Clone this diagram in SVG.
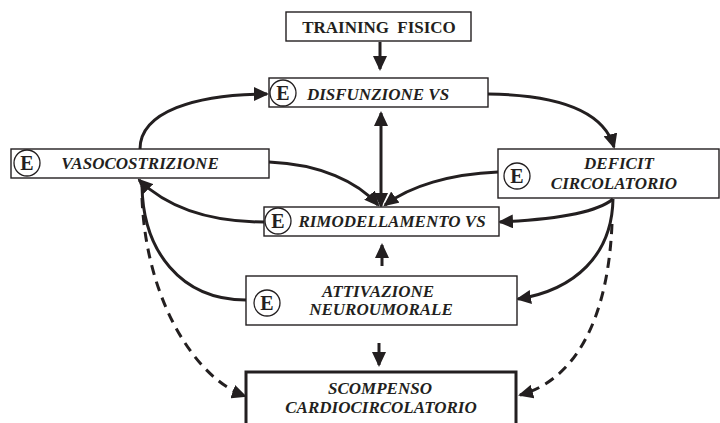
<svg xmlns="http://www.w3.org/2000/svg" width="720" height="423" viewBox="0 0 720 423">
<style>
.box{fill:#fff;stroke:#231f20;stroke-width:1.4}
.thick{fill:#fff;stroke:#231f20;stroke-width:3}
.t{font-family:"Liberation Serif","Times New Roman",serif;font-weight:bold;font-style:italic;font-size:17px;fill:#231f20;text-anchor:middle}
.up{font-style:normal}
.e{font-family:"Liberation Serif","Times New Roman",serif;font-weight:bold;font-size:20px;fill:#231f20;text-anchor:middle}
.c{fill:#fff;stroke:#231f20;stroke-width:1.3}
.ln{fill:none;stroke:#231f20;stroke-width:3}
.d{stroke-dasharray:10 7}
</style>
<defs>
<marker id="ah" markerUnits="userSpaceOnUse" markerWidth="15" markerHeight="14" refX="13" refY="7" orient="auto-start-reverse" viewBox="0 0 15 14">
<path d="M0,0 L15,7 L0,14 z" fill="#231f20"/>
</marker>
</defs>
<g id="connectors">
<path class="ln" d="M380,42 L380,69" marker-end="url(#ah)"/>
<path class="ln" d="M140,149 C140,112 195,94 267,94" marker-end="url(#ah)"/>
<path class="ln" d="M488,94 C560,95 604,112 614,147" marker-end="url(#ah)"/>
<path class="ln" d="M381,113 L381,206" marker-start="url(#ah)" marker-end="url(#ah)"/>
<path class="ln" d="M269,162 C320,164 358,182 378,205" marker-end="url(#ah)"/>
<path class="ln" d="M498,172 C450,174 410,186 385,205" marker-end="url(#ah)"/>
<path class="ln" d="M613,199 C595,214 545,220 500,222" marker-end="url(#ah)"/>
<path class="ln" d="M613,199 C612,255 575,290 518,299" marker-end="url(#ah)"/>
<path class="ln d" d="M612,224 C608,320 575,380 520,395" marker-end="url(#ah)"/>
<path class="ln" d="M382,266 L382,245" marker-end="url(#ah)"/>
<path class="ln" d="M379,343 L379,365" marker-end="url(#ah)"/>
<path class="ln" d="M264,222 C210,222 168,208 139,180" marker-end="url(#ah)"/>
<path class="ln" d="M246,300 C180,300 143,250 142,186"/>
<path class="ln d" d="M142,198 C146,300 195,378 245,396" marker-end="url(#ah)"/>
</g>
<g id="training">
<rect class="box" x="286" y="12" width="185" height="29"/>
<text class="t up" x="379" y="33" word-spacing="4">TRAINING FISICO</text>
</g>
<g id="disfunzione">
<rect class="box" x="269" y="78" width="219" height="29"/>
<circle class="c" cx="283" cy="93" r="13"/>
<text class="e" x="283" y="100">E</text>
<text class="t" x="378" y="100">DISFUNZIONE VS</text>
</g>
<g id="vasocostrizione">
<rect class="box" x="11" y="149" width="258" height="29"/>
<circle class="c" cx="27" cy="163" r="13"/>
<text class="e" x="27" y="170">E</text>
<text class="t" x="140" y="169">VASOCOSTRIZIONE</text>
</g>
<g id="deficit">
<rect class="box" x="498" y="149" width="221" height="49"/>
<circle class="c" cx="517" cy="176" r="13"/>
<text class="e" x="517" y="183">E</text>
<text class="t" x="619" y="169">DEFICIT</text>
<text class="t" x="614" y="189">CIRCOLATORIO</text>
</g>
<g id="rimodellamento">
<rect class="box" x="264" y="207" width="235" height="29"/>
<circle class="c" cx="278" cy="221" r="13"/>
<text class="e" x="278" y="228">E</text>
<text class="t" x="392" y="227">RIMODELLAMENTO VS</text>
</g>
<g id="attivazione">
<rect class="box" x="246" y="276" width="271" height="49"/>
<circle class="c" cx="267" cy="303" r="13"/>
<text class="e" x="267" y="310">E</text>
<text class="t" x="378" y="297">ATTIVAZIONE</text>
<text class="t" x="381" y="315">NEUROUMORALE</text>
</g>
<g id="scompenso">
<rect class="thick" x="246" y="372" width="270" height="60"/>
<text class="t" x="380" y="394">SCOMPENSO</text>
<text class="t" x="381" y="413">CARDIOCIRCOLATORIO</text>
</g>
</svg>
